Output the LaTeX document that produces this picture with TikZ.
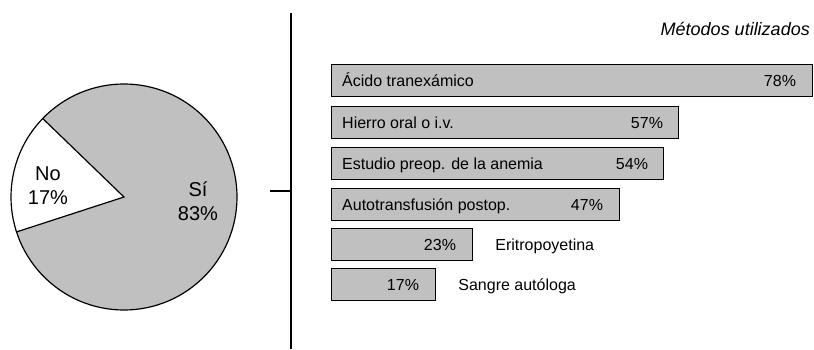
\documentclass[tikz,border=0pt]{standalone}
\usepackage{fontspec}
\setmainfont{Liberation Sans}
\usetikzlibrary{calc}
\definecolor{bargrey}{HTML}{C0C0C0}
\begin{document}
\begin{tikzpicture}[x=1pt,y=1pt,
  outline/.style={draw=black,line width=1.2pt},
  barbox/.style={outline,fill=bargrey,minimum height=32pt,inner sep=0pt,anchor=north west},
  lbl/.style={font=\fontsize{16}{19}\selectfont,inner sep=0pt},
  pielbl/.style={font=\fontsize{20}{24}\selectfont,align=center,inner sep=0pt}]
\useasboundingbox (0,0) rectangle (814,349);
% pie
\coordinate (c) at (124,152);
\fill[bargrey] (c) -- ++(198:113) arc[start angle=198,end angle=496,radius=113] -- cycle;
\fill[white] (c) -- ++(136:113) arc[start angle=136,end angle=198,radius=113] -- cycle;
\draw[outline] (c) circle[radius=113];
\draw[outline] ($(c)+(136:113)$) -- (c) -- ($(c)+(198:113)$);
\node[pielbl] (no) at (48,163) {No\\17\%};
\node[pielbl] (si) at (198,148) {Sí\\83\%};
% divider
\coordinate (vtop) at (291,336);
\coordinate (vbot) at (291,0);
\coordinate (hl) at (270,158);
\coordinate (hr) at (291,158);
\draw[line width=1.2pt] (vtop) -- (vbot);
\draw[line width=1.2pt] (hl) -- (hr);
% title
\node[font=\fontsize{18}{21}\selectfont\itshape,inner sep=0pt,anchor=base east] (title) at (810,313) {Métodos utilizados};
% bars
\node[barbox,minimum width=481pt] (b1) at (331,285) {};
\node[barbox,minimum width=347pt] (b2) at (331,243) {};
\node[barbox,minimum width=332pt] (b3) at (331,202) {};
\node[barbox,minimum width=288pt] (b4) at (331,161) {};
\node[barbox,minimum width=141pt] (b5) at (331,121) {};
\node[barbox,minimum width=104pt] (b6) at (331,81) {};
% inside labels
\node[lbl,anchor=base west] (t1) at ([xshift=11pt,yshift=-6pt]b1.west) {Ácido tranexámico};
\node[lbl,anchor=base west] (t2) at ([xshift=11pt,yshift=-6pt]b2.west) {Hierro oral o i.v.};
\node[lbl,anchor=base west] (t3) at ([xshift=11pt,yshift=-6pt]b3.west) {Estudio preop. de la anemia};
\node[lbl,anchor=base west] (t4) at ([xshift=11pt,yshift=-6pt]b4.west) {Autotransfusión postop.};
% percentages
\node[lbl,anchor=base east] (p1) at ([xshift=-17pt,yshift=-6pt]b1.east) {78\%};
\node[lbl,anchor=base east] (p2) at ([xshift=-16pt,yshift=-6pt]b2.east) {57\%};
\node[lbl,anchor=base east] (p3) at ([xshift=-16pt,yshift=-6pt]b3.east) {54\%};
\node[lbl,anchor=base east] (p4) at ([xshift=-17pt,yshift=-6pt]b4.east) {47\%};
\node[lbl,anchor=base east] (p5) at ([xshift=-17pt,yshift=-6pt]b5.east) {23\%};
\node[lbl,anchor=base east] (p6) at ([xshift=-17pt,yshift=-6pt]b6.east) {17\%};
% outside labels
\node[lbl,anchor=base west] (t5) at ([xshift=22pt,yshift=-6pt]b5.east) {Eritropoyetina};
\node[lbl,anchor=base west] (t6) at ([xshift=22pt,yshift=-6pt]b6.east) {Sangre autóloga};
\end{tikzpicture}
\end{document}
